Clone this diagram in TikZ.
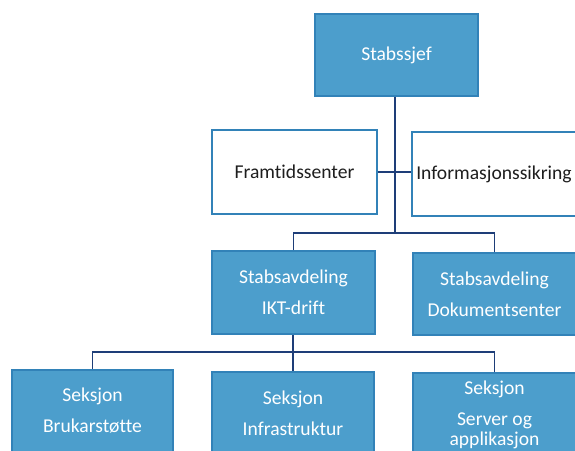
\documentclass[tikz,border=0pt]{standalone}
\usepackage{fontspec}
\setmainfont{Carlito}[Ligatures=NoCommon]
\definecolor{boxblue}{RGB}{76,158,204}
\definecolor{boxedge}{RGB}{50,130,184}
\definecolor{linenavy}{RGB}{30,62,120}
\definecolor{txtdark}{RGB}{30,30,30}
\begin{document}
\begin{tikzpicture}[x=1pt,y=-1pt,
  bluebox/.style={draw=boxedge,line width=1.6pt,fill=boxblue,text=white,
    rectangle,inner sep=0pt,align=center,
    font=\fontsize{19.6}{21}\selectfont},
  whitebox/.style={draw=boxedge,line width=1.6pt,fill=white,text=txtdark,
    rectangle,inner sep=0pt,align=center,
    font=\fontsize{19.6}{21}\selectfont},
  conn/.style={draw=linenavy,line width=1.5pt}]
\clip (0,0) rectangle (575,450);
\fill[white] (0,0) rectangle (575,450);
% level 0
\node[bluebox,minimum width=163pt,minimum height=82pt] (boss) at (396.5,55) {Stabssjef};
% staff units
\node[whitebox,minimum width=165pt,minimum height=84pt] (fram) at (294.5,172) {Framtidssenter};
\node[whitebox,minimum width=164pt,minimum height=84pt,text width=164pt] (info) at (494,174) {Informasjonssikring};
% level 1
\node[bluebox,minimum width=163pt,minimum height=83pt] (ikt) at (293.5,292.5) {Stabsavdeling\\[10pt]IKT-drift};
\node[bluebox,minimum width=163pt,minimum height=82pt] (dok) at (494.5,294) {Stabsavdeling\\[10pt]Dokumentsenter};
% level 2
\node[bluebox,minimum width=161pt,minimum height=82pt] (bruk) at (92.5,411) {Seksjon\\[10pt]Brukarstøtte};
\node[bluebox,minimum width=162pt,minimum height=82pt] (infra) at (293,413) {Seksjon\\[10pt]Infrastruktur};
\node[bluebox,minimum width=163pt,minimum height=82pt,anchor=north] (server) at (494.5,372) {};
\node[text=white,font=\fontsize{19.6}{20}\selectfont,align=center,anchor=north] (servertxt) at (494.5,377) {Seksjon\\[11pt]Server og\\applikasjon};
% connectors
\coordinate (j1) at (395,233);
\coordinate (j2) at (293,352);
\draw[conn] (boss.south -| j1) -- (j1);
\draw[conn] (fram.east) -- (fram.east -| info.west);
\draw[conn] (ikt.north) |- (j1) -| (dok.north);
\draw[conn] (ikt.south -| j2) -- (infra.north -| j2);
\draw[conn] (bruk.north) |- (j2) -| (server.north);
\end{tikzpicture}
\end{document}
